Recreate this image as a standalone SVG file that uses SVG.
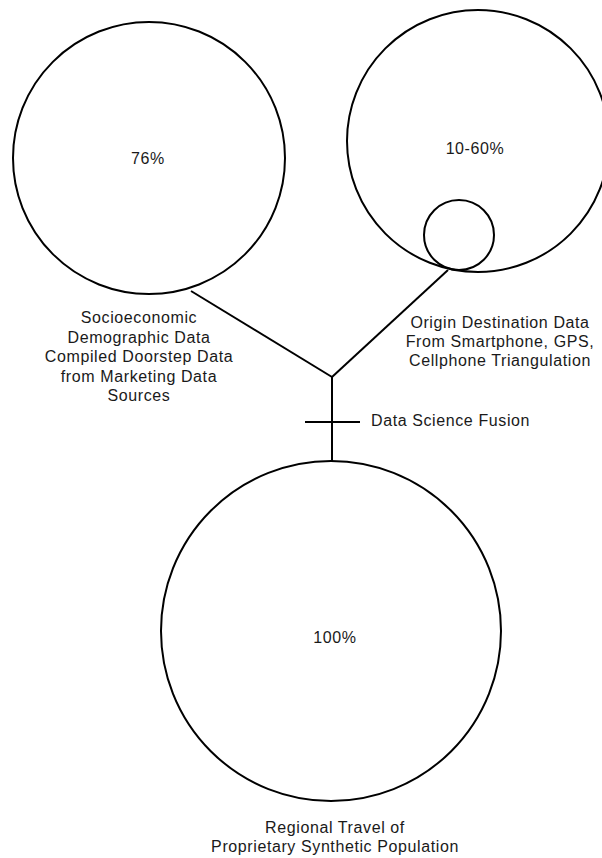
<svg xmlns="http://www.w3.org/2000/svg" width="602" height="858" viewBox="0 0 602 858">
<style>
.c{fill:none;stroke:#000;stroke-width:2}
.l{fill:none;stroke:#000;stroke-width:2}
text{font-family:"Liberation Sans",Arial,sans-serif;font-size:16px;fill:#1a1a1a;letter-spacing:0.6px}
.m{text-anchor:middle}
</style>
<rect width="602" height="858" fill="#fff"/>
<g id="connectors">
<line class="l" x1="191" y1="291" x2="332" y2="377"/>
<line class="l" x1="448" y1="270" x2="332" y2="377"/>
<line class="l" x1="332" y1="377" x2="332" y2="461"/>
<line class="l" x1="305" y1="422" x2="360" y2="422"/>
<text x="371" y="426">Data Science Fusion</text>
</g>
<g id="socio">
<circle class="c" cx="149" cy="158" r="136"/>
<text class="m" x="148" y="164">76%</text>
<text class="m" x="139" y="323">Socioeconomic</text>
<text class="m" x="139" y="342.5">Demographic Data</text>
<text class="m" x="139" y="362">Compiled Doorstep Data</text>
<text class="m" x="139" y="381.5">from Marketing Data</text>
<text class="m" x="139" y="401">Sources</text>
</g>
<g id="origin">
<circle class="c" cx="478" cy="141" r="131"/>
<circle class="c" cx="459" cy="235" r="35"/>
<text class="m" x="475" y="154">10-60%</text>
<text class="m" x="500" y="328">Origin Destination Data</text>
<text class="m" x="500" y="347">From Smartphone, GPS,</text>
<text class="m" x="500" y="366">Cellphone Triangulation</text>
</g>
<g id="synthetic">
<circle class="c" cx="331" cy="631" r="170"/>
<text class="m" x="335" y="643">100%</text>
<text class="m" x="335" y="833">Regional Travel of</text>
<text class="m" x="335" y="852">Proprietary Synthetic Population</text>
</g>
</svg>
